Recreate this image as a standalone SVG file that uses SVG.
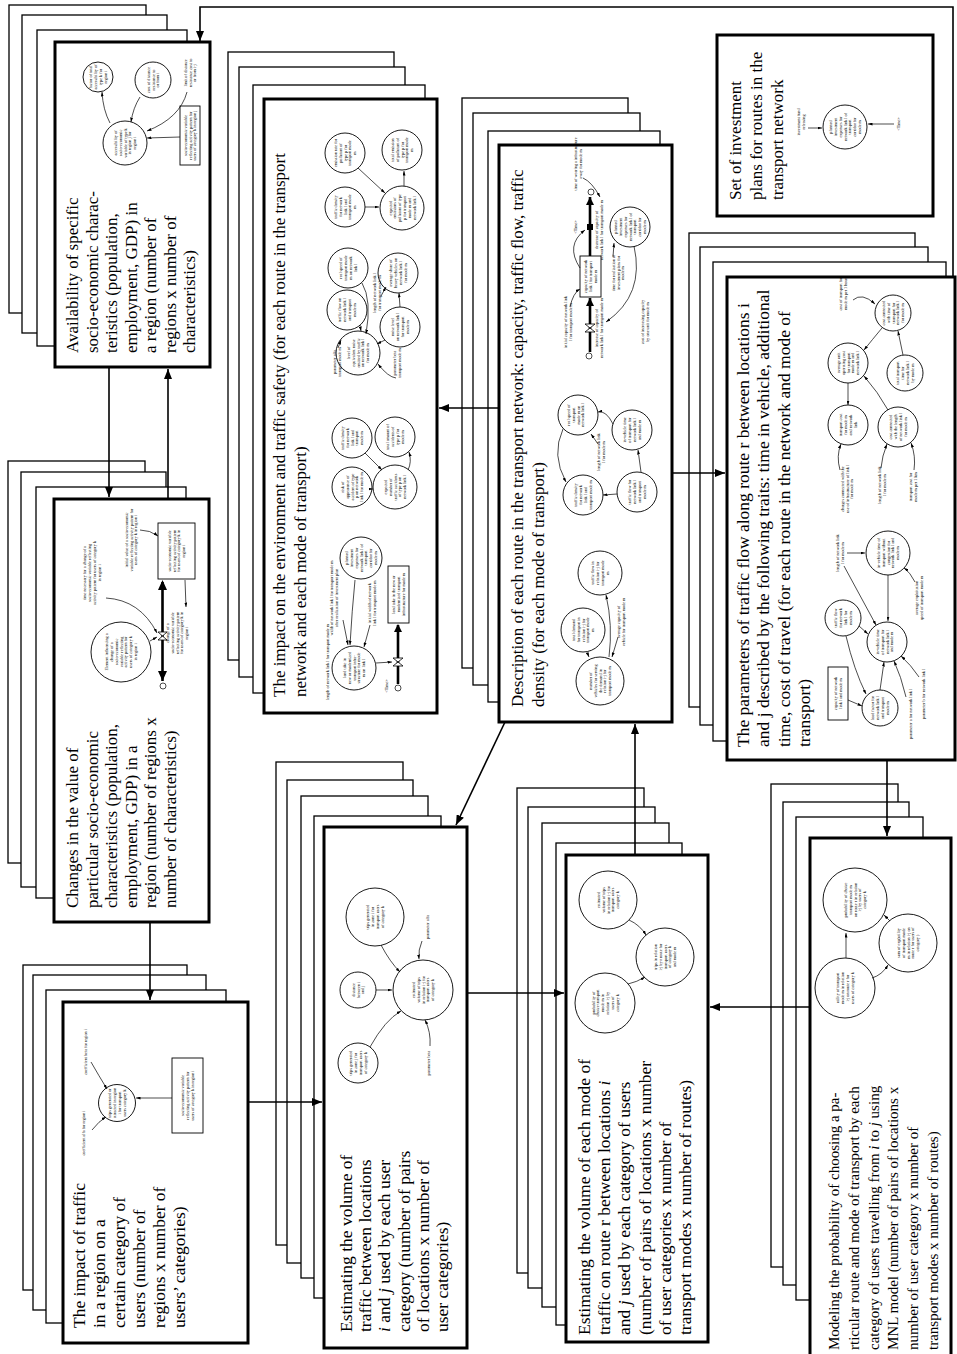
<svg xmlns="http://www.w3.org/2000/svg" width="957" height="1354" viewBox="0 0 957 1354">
<defs>
<style>
.pg{fill:#fff;stroke:#000;stroke-width:1.3}
.mb{fill:#fff;stroke:#000;stroke-width:3}
.t{font-family:"Liberation Serif","Times New Roman",serif;font-size:17px;fill:#000}
.t5{font-size:17.5px}
.s{font-family:"Liberation Serif","Times New Roman",serif;font-size:4.2px;fill:#000;text-anchor:middle}
.c{fill:#fff;stroke:#000;stroke-width:0.9}
.bx{fill:#fff;stroke:#000;stroke-width:0.9}
.con{fill:none;stroke:#000;stroke-width:1.6;marker-end:url(#A)}
.ia{fill:none;stroke:#000;stroke-width:0.7;marker-end:url(#a)}
.fl{fill:none;stroke:#000;stroke-width:2.6}
.cl{fill:#fff;stroke:#000;stroke-width:0.7}
</style>
<marker id="A" viewBox="0 0 10 8" refX="10" refY="4" markerWidth="10" markerHeight="8" markerUnits="userSpaceOnUse" orient="auto"><path d="M0,0L10,4L0,8z"/></marker>
<marker id="a" viewBox="0 0 6 4" refX="6" refY="2" markerWidth="4.5" markerHeight="3" markerUnits="userSpaceOnUse" orient="auto"><path d="M0,0L6,2L0,4z"/></marker>
</defs>
<rect width="957" height="1354" fill="#fff"/>

<g id="availability">
<rect class="pg" x="9" y="5" width="137" height="308"/>
<rect class="pg" x="22" y="15" width="145" height="318"/>
<rect class="pg" x="37" y="30" width="150" height="316"/>
<rect class="mb" x="55" y="42" width="155" height="325"/>
<text class="t" transform="translate(78,353) rotate(-90)"><tspan x="0" y="0">Availability of specific</tspan><tspan x="0" dy="19.5">socio-economic charac-</tspan><tspan x="0" dy="19.5">teristics (population,</tspan><tspan x="0" dy="19.5">employment, GDP) in</tspan><tspan x="0" dy="19.5">a region (number of</tspan><tspan x="0" dy="19.5">regions x number of</tspan><tspan x="0" dy="19.5">characteristics)</tspan></text>
<g transform="translate(98,77) rotate(-90)"><circle class="c" r="15"/><text class="s" y="-5.7"><tspan x="0">factor of total</tspan><tspan x="0" dy="4.8">accessibility of</tspan><tspan x="0" dy="4.8">type k for</tspan><tspan x="0" dy="4.8">region i</tspan></text></g>
<g transform="translate(153,80) rotate(-90)"><circle class="c" r="18"/><text class="s" y="-3.3"><tspan x="0">cost of distance</tspan><tspan x="0" dy="4.8">resistance to</tspan><tspan x="0" dy="4.8">or from i</tspan></text></g>
<g transform="translate(125,143) rotate(-90)"><circle class="c" r="22"/><text class="s" y="-8.1"><tspan x="0">accessibility of</tspan><tspan x="0" dy="4.8">socio-economic</tspan><tspan x="0" dy="4.8">variable of type k</tspan><tspan x="0" dy="4.8">in region j for</tspan><tspan x="0" dy="4.8">region i</tspan></text></g>
<g transform="translate(190,73) rotate(-90)"><text class="s" y="-3.3"><tspan x="0">limit of distance</tspan><tspan x="0" dy="4.8">resistance cost to</tspan><tspan x="0" dy="4.8">or from i-j</tspan></text></g>
<g transform="translate(190,135.5) rotate(-90)"><rect class="bx" x="-29.5" y="-10" width="59" height="20"/><text class="s" y="-3.3"><tspan x="0">socio-economic variable</tspan><tspan x="0" dy="4.8">reflecting activity pattern for</tspan><tspan x="0" dy="4.8">users of category k in region j</tspan></text></g>
<path class="ia" d="M110,123 Q103,110 102,92"/>
<path class="ia" d="M140,97 Q133,108 131,122"/>
<path class="ia" d="M187,92 Q180,118 147,131"/>
<path class="ia" d="M180,137 L147,138"/>
</g>

<g id="changes">
<rect class="pg" x="8" y="461" width="137" height="402"/>
<rect class="pg" x="21" y="472" width="145" height="415"/>
<rect class="pg" x="36" y="487" width="150" height="411"/>
<rect class="mb" x="54" y="499" width="155" height="423"/>
<text class="t" transform="translate(78,908) rotate(-90)"><tspan x="0" y="0">Changes in the value of</tspan><tspan x="0" dy="19.6">particular socio-economic</tspan><tspan x="0" dy="19.6">characteristics (population,</tspan><tspan x="0" dy="19.6">employment, GDP) in a</tspan><tspan x="0" dy="19.6">region (number of regions x</tspan><tspan x="0" dy="19.6">number of characteristics)</tspan></text>
<g transform="translate(176.5,551) rotate(-90)"><rect class="bx" x="-28" y="-18.5" width="56" height="37"/><text class="s" y="-5.7"><tspan x="0">socio-economic variable</tspan><tspan x="0" dy="4.8">reflecting activity pattern</tspan><tspan x="0" dy="4.8">for users of category k in</tspan><tspan x="0" dy="4.8">region i</tspan></text></g>
<path class="fl" d="M162.5,582 L162.5,681"/>
<path d="M158,590 L167,590 L162.5,580 Z M158,671 L167,671 L162.5,681 Z"/>
<path d="M158,632 L167,632 L158,640 L167,640 Z" fill="#fff" stroke="#000" stroke-width="0.8"/>
<circle class="cl" cx="163" cy="686" r="3"/>
<g transform="translate(121,652) rotate(-90)"><circle class="c" r="30"/><text class="s" y="-12.9"><tspan x="0">Element influencing a</tspan><tspan x="0" dy="4.8">change of a</tspan><tspan x="0" dy="4.8">socio-economic</tspan><tspan x="0" dy="4.8">variable reflecting</tspan><tspan x="0" dy="4.8">activity pattern for</tspan><tspan x="0" dy="4.8">users of category k</tspan><tspan x="0" dy="4.8">in region i</tspan></text></g>
<g transform="translate(177,633) rotate(-90)"><text class="s" y="-8.1"><tspan x="0">change of a</tspan><tspan x="0" dy="4.8">socio-economic variable</tspan><tspan x="0" dy="4.8">reflecting activity pattern</tspan><tspan x="0" dy="4.8">for users of category k in</tspan><tspan x="0" dy="4.8">region i</tspan></text></g>
<g transform="translate(92,573) rotate(-90)"><text class="s" y="-5.7"><tspan x="0">time necessary for a change of a</tspan><tspan x="0" dy="4.8">socio-economic variable reflecting</tspan><tspan x="0" dy="4.8">activity pattern for users of category k</tspan><tspan x="0" dy="4.8">in region i</tspan></text></g>
<g transform="translate(131,540) rotate(-90)"><text class="s" y="-3.3"><tspan x="0">initial value of a socio-economic</tspan><tspan x="0" dy="4.8">variable reflecting activity pattern for</tspan><tspan x="0" dy="4.8">users of category k in region i</tspan></text></g>
<path class="ia" d="M140,530 Q150,530 158,536"/>
<path class="ia" d="M106,598 Q140,600 157,633"/>
<path class="ia" d="M185,580 L186,607"/>
<path class="ia" d="M150,641 L157,637"/>
</g>

<g id="impact">
<rect class="pg" x="23" y="965" width="164" height="325"/>
<rect class="pg" x="33" y="975" width="173" height="335"/>
<rect class="pg" x="46" y="990" width="180" height="333"/>
<rect class="mb" x="63" y="1002" width="185" height="341"/>
<text class="t t5" transform="translate(85,1328) rotate(-90)"><tspan x="0" y="0">The impact of traffic</tspan><tspan x="0" dy="20">in a region on a</tspan><tspan x="0" dy="20">certain category of</tspan><tspan x="0" dy="20">users (number of</tspan><tspan x="0" dy="20">regions x number of</tspan><tspan x="0" dy="20">users’ categories)</tspan></text>
<g transform="translate(117,1103) rotate(-90)"><circle class="c" r="18.5"/><text class="s" y="-5.7"><tspan x="0">trips generated or</tspan><tspan x="0" dy="4.8">attracted in region</tspan><tspan x="0" dy="4.8">i for transport</tspan><tspan x="0" dy="4.8">users category k</tspan></text></g>
<g transform="translate(187.5,1095.5) rotate(-90)"><rect class="bx" x="-37.5" y="-15.5" width="75" height="31"/><text class="s" y="-3.3"><tspan x="0">socio-economic variable</tspan><tspan x="0" dy="4.8">reflecting activity pattern for</tspan><tspan x="0" dy="4.8">users of category k in region i</tspan></text></g>
<g transform="translate(83,1133) rotate(-90)"><text class="s" y="1.5"><tspan x="0">coefficient alfa for region i</tspan></text></g>
<g transform="translate(85,1052) rotate(-90)"><text class="s" y="1.5"><tspan x="0">coefficient beta for region i</tspan></text></g>
<path class="ia" d="M92,1130 Q99,1121 106,1117"/>
<path class="ia" d="M91,1062 Q99,1076 107,1089"/>
<path class="ia" d="M172,1098 L136,1098"/>
</g>

<g id="esttraffic">
<rect class="pg" x="276" y="762" width="127" height="483"/>
<rect class="pg" x="287" y="780" width="126" height="483"/>
<rect class="pg" x="301" y="796" width="127" height="482"/>
<rect class="pg" x="314" y="816" width="127" height="482"/>
<rect class="mb" x="324" y="827" width="143" height="521"/>
<text class="t t5" transform="translate(352,1332) rotate(-90)"><tspan x="0" y="0">Estimating the volume of</tspan><tspan x="0" dy="19.2">traffic between locations</tspan><tspan x="0" dy="19.2"><tspan font-style="italic">i</tspan> and <tspan font-style="italic">j</tspan> used by each user</tspan><tspan x="0" dy="19.2">category (number of pairs</tspan><tspan x="0" dy="19.2">of locations x number of</tspan><tspan x="0" dy="19.2">user categories)</tspan></text>
<g transform="translate(375,917) rotate(-90)"><circle class="c" r="29"/><text class="s" y="-5.7"><tspan x="0">trips generated</tspan><tspan x="0" dy="4.8">in zone i for</tspan><tspan x="0" dy="4.8">transport users</tspan><tspan x="0" dy="4.8">of category k</tspan></text></g>
<g transform="translate(358,990) rotate(-90)"><circle class="c" r="18"/><text class="s" y="-3.3"><tspan x="0">distance</tspan><tspan x="0" dy="4.8">between i</tspan><tspan x="0" dy="4.8">and j</tspan></text></g>
<g transform="translate(423,990) rotate(-90)"><circle class="c" r="30"/><text class="s" y="-8.1"><tspan x="0">estimated</tspan><tspan x="0" dy="4.8">volume of trips</tspan><tspan x="0" dy="4.8">in relation i-j for</tspan><tspan x="0" dy="4.8">transport users</tspan><tspan x="0" dy="4.8">of category k</tspan></text></g>
<g transform="translate(427,927) rotate(-90)"><text class="s" y="1.5"><tspan x="0">parameter alfa</tspan></text></g>
<g transform="translate(358,1063) rotate(-90)"><circle class="c" r="20"/><text class="s" y="-5.7"><tspan x="0">trips generated</tspan><tspan x="0" dy="4.8">in zone j for</tspan><tspan x="0" dy="4.8">transport users</tspan><tspan x="0" dy="4.8">of category k</tspan></text></g>
<g transform="translate(428,1063) rotate(-90)"><text class="s" y="1.5"><tspan x="0">parameter beta</tspan></text></g>
<path class="ia" d="M381,945 Q390,962 400,972"/>
<path class="ia" d="M376,990 L392,990"/>
<path class="ia" d="M422,941 Q418,950 419,959"/>
<path class="ia" d="M370,1047 Q385,1020 401,1011"/>
<path class="ia" d="M430,1046 Q431,1032 425,1020"/>
</g>

<g id="estmode">
<rect class="pg" x="517" y="788" width="127" height="485"/>
<rect class="pg" x="528" y="807" width="127" height="481"/>
<rect class="pg" x="542" y="823" width="127" height="484"/>
<rect class="pg" x="556" y="843" width="126" height="482"/>
<rect class="mb" x="566" y="855" width="142" height="487"/>
<text class="t t5" transform="translate(590,1335) rotate(-90)"><tspan x="0" y="0">Estimating the volume of each mode of</tspan><tspan x="0" dy="20.2">traffic on route r between locations <tspan font-style="italic">i</tspan></tspan><tspan x="0" dy="20.2">and <tspan font-style="italic">j</tspan> used by each category of users</tspan><tspan x="0" dy="20.2">(number of pairs of locations x number</tspan><tspan x="0" dy="20.2">of user categories x number of</tspan><tspan x="0" dy="20.2">transport modes x number of routes)</tspan></text>
<g transform="translate(608,900) rotate(-90)"><circle class="c" r="29"/><text class="s" y="-8.1"><tspan x="0">estimated</tspan><tspan x="0" dy="4.8">volume of trips</tspan><tspan x="0" dy="4.8">in relation i-j for</tspan><tspan x="0" dy="4.8">transport users</tspan><tspan x="0" dy="4.8">category k</tspan></text></g>
<g transform="translate(605,1003) rotate(-90)"><circle class="c" r="30"/><text class="s" y="-10.5"><tspan x="0">probability of</tspan><tspan x="0" dy="4.8">choice transport</tspan><tspan x="0" dy="4.8">mode m in</tspan><tspan x="0" dy="4.8">relation i-j by</tspan><tspan x="0" dy="4.8">users of</tspan><tspan x="0" dy="4.8">category k</tspan></text></g>
<g transform="translate(665,957) rotate(-90)"><circle class="c" r="29"/><text class="s" y="-8.1"><tspan x="0">trips in relation</tspan><tspan x="0" dy="4.8">i-j by r route for</tspan><tspan x="0" dy="4.8">transport users</tspan><tspan x="0" dy="4.8">of category k</tspan><tspan x="0" dy="4.8">and mode m</tspan></text></g>
<path class="ia" d="M629,920 Q640,925 646,935"/>
<path class="ia" d="M628,984 Q637,982 645,977"/>
</g>

<g id="modeling">
<rect class="pg" x="771" y="784" width="127" height="483"/>
<rect class="pg" x="783" y="802" width="126" height="483"/>
<rect class="pg" x="796" y="817" width="127" height="483"/>
<rect class="mb" x="810" y="838" width="141" height="530"/>
<text class="t" style="font-size:15px" transform="translate(839,1350) rotate(-90)"><tspan x="0" y="0">Modeling the probability of choosing a pa-</tspan><tspan x="0" dy="19.8">rticular route and mode of transport by each</tspan><tspan x="0" dy="19.8">category of users travelling from <tspan font-style="italic">i</tspan> to <tspan font-style="italic">j</tspan> using</tspan><tspan x="0" dy="19.8">MNL model (number of pairs of locations x</tspan><tspan x="0" dy="19.8">number of user category x number of</tspan><tspan x="0" dy="19.8">transport modes x number of routes)</tspan></text>
<g transform="translate(855,900) rotate(-90)"><circle class="c" r="32"/><text class="s" y="-8.1"><tspan x="0">probability of choice</tspan><tspan x="0" dy="4.8">transport mode m</tspan><tspan x="0" dy="4.8">on route r in relation</tspan><tspan x="0" dy="4.8">i-j by users of</tspan><tspan x="0" dy="4.8">category k</tspan></text></g>
<g transform="translate(908,943) rotate(-90)"><circle class="c" r="29"/><text class="s" y="-8.1"><tspan x="0">sum of exp(utility</tspan><tspan x="0" dy="4.8">of transport mode</tspan><tspan x="0" dy="4.8">m in relation i-j on</tspan><tspan x="0" dy="4.8">route r for users of</tspan><tspan x="0" dy="4.8">category )</tspan></text></g>
<g transform="translate(845,988) rotate(-90)"><circle class="c" r="30"/><text class="s" y="-5.7"><tspan x="0">utility of transport</tspan><tspan x="0" dy="4.8">mode m in relation</tspan><tspan x="0" dy="4.8">i-j on route r for</tspan><tspan x="0" dy="4.8">users of category k</tspan></text></g>
<path class="ia" d="M846,958 L846,933"/>
<path class="ia" d="M872,978 Q882,975 888,965"/>
<path class="ia" d="M890,921 L884,915"/>
</g>

<g id="investment">
<rect class="mb" x="717" y="35" width="216" height="181"/>
<text class="t" transform="translate(741,200) rotate(-90)"><tspan x="0" y="0">Set of investment</tspan><tspan x="0" dy="21">plans for routes in the</tspan><tspan x="0" dy="21">transport network</tspan></text>
<g transform="translate(845,127) rotate(-90)"><circle class="c" r="22"/><text class="s" y="-12.9"><tspan x="0">planned</tspan><tspan x="0" dy="4.8">investment</tspan><tspan x="0" dy="4.8">expenses for</tspan><tspan x="0" dy="4.8">network link l of</tspan><tspan x="0" dy="4.8">transport</tspan><tspan x="0" dy="4.8">corridor for</tspan><tspan x="0" dy="4.8">mode m</tspan></text></g>
<g transform="translate(801,122) rotate(-90)"><text class="s" y="-0.9"><tspan x="0">investment fund</tspan><tspan x="0" dy="4.8">releasing</tspan></text></g>
<g transform="translate(898,124) rotate(-90)"><text class="s" y="1.5"><tspan x="0">&lt;Time&gt;</tspan></text></g>
<path class="ia" d="M808,128 L822,128"/>
<path class="ia" d="M894,124 L868,124"/>
</g>

<g id="environment">
<rect class="pg" x="228" y="52" width="166" height="608"/>
<rect class="pg" x="239" y="67" width="166" height="610"/>
<rect class="pg" x="253" y="85" width="172" height="608"/>
<rect class="mb" x="264" y="99" width="173" height="614"/>
<text class="t" transform="translate(285,697) rotate(-90)"><tspan x="0" y="0">The impact on the environment and traffic safety (for each route in the transport</tspan><tspan x="0" dy="21">network and each mode of transport)</tspan></text>
<g transform="translate(345,153) rotate(-90)"><circle class="c" r="20"/><text class="s" y="-8.1"><tspan x="0">emission rate for</tspan><tspan x="0" dy="4.8">pollutant of</tspan><tspan x="0" dy="4.8">type p for</tspan><tspan x="0" dy="4.8">transport mode</tspan><tspan x="0" dy="4.8">m</tspan></text></g>
<g transform="translate(402,150) rotate(-90)"><circle class="c" r="20"/><text class="s" y="-8.1"><tspan x="0">total emission</tspan><tspan x="0" dy="4.8">of pollutant of</tspan><tspan x="0" dy="4.8">type p for</tspan><tspan x="0" dy="4.8">transport mode</tspan><tspan x="0" dy="4.8">m</tspan></text></g>
<g transform="translate(345,207) rotate(-90)"><circle class="c" r="20"/><text class="s" y="-8.1"><tspan x="0">traffic density</tspan><tspan x="0" dy="4.8">for network</tspan><tspan x="0" dy="4.8">link l and</tspan><tspan x="0" dy="4.8">transport mode</tspan><tspan x="0" dy="4.8">m</tspan></text></g>
<g transform="translate(402,208) rotate(-90)"><circle class="c" r="22"/><text class="s" y="-10.5"><tspan x="0">expected</tspan><tspan x="0" dy="4.8">emissions of</tspan><tspan x="0" dy="4.8">pollutant of type</tspan><tspan x="0" dy="4.8">p for transport</tspan><tspan x="0" dy="4.8">mode m and</tspan><tspan x="0" dy="4.8">network link l</tspan></text></g>
<path class="ia" d="M358,168 L385,193"/>
<path class="ia" d="M365,207 L379,207"/>
<path class="ia" d="M404,186 L404,171"/>
<g transform="translate(348,268) rotate(-90)"><circle class="c" r="20"/><text class="s" y="-5.7"><tspan x="0">real speed of</tspan><tspan x="0" dy="4.8">transport mode</tspan><tspan x="0" dy="4.8">m on network</tspan><tspan x="0" dy="4.8">link l</tspan></text></g>
<g transform="translate(347,310) rotate(-90)"><circle class="c" r="20"/><text class="s" y="-5.7"><tspan x="0">traffic flow on</tspan><tspan x="0" dy="4.8">network link l</tspan><tspan x="0" dy="4.8">and transport</tspan><tspan x="0" dy="4.8">mode m</tspan></text></g>
<g transform="translate(398,273) rotate(-90)"><circle class="c" r="20"/><text class="s" y="-5.7"><tspan x="0">average share of</tspan><tspan x="0" dy="4.8">heavy vehicles on</tspan><tspan x="0" dy="4.8">network link l</tspan><tspan x="0" dy="4.8">for mode m</tspan></text></g>
<g transform="translate(400,327) rotate(-90)"><circle class="c" r="20"/><text class="s" y="-5.7"><tspan x="0">noise level</tspan><tspan x="0" dy="4.8">on network link l</tspan><tspan x="0" dy="4.8">for transport</tspan><tspan x="0" dy="4.8">mode m</tspan></text></g>
<g transform="translate(358,353) rotate(-90)"><circle class="c" r="22"/><text class="s" y="-8.1"><tspan x="0">level of</tspan><tspan x="0" dy="4.8">equivalent noise</tspan><tspan x="0" dy="4.8">emitted by traffic</tspan><tspan x="0" dy="4.8">on network link l</tspan><tspan x="0" dy="4.8">for mode m</tspan></text></g>
<g transform="translate(377,293) rotate(-90)"><text class="s" y="-0.9"><tspan x="0">length of network link l</tspan><tspan x="0" dy="4.8">for transport mode m</tspan></text></g>
<g transform="translate(337,362) rotate(-90)"><text class="s" y="-0.9"><tspan x="0">parameter alfa</tspan><tspan x="0" dy="4.8">transport mode m</tspan></text></g>
<g transform="translate(397,363) rotate(-90)"><text class="s" y="-0.9"><tspan x="0">parameter beta</tspan><tspan x="0" dy="4.8">transport mode m</tspan></text></g>
<path class="ia" d="M362,283 Q372,300 366,334"/>
<path class="ia" d="M360,325 L361,331"/>
<path class="ia" d="M381,296 L386,287"/>
<path class="ia" d="M400,307 L399,293"/>
<path class="ia" d="M385,340 L377,344"/>
<path class="ia" d="M338,348 L341,340"/>
<path class="ia" d="M396,378 Q388,377 378,364"/>
<g transform="translate(352,438) rotate(-90)"><circle class="c" r="20"/><text class="s" y="-8.1"><tspan x="0">traffic density</tspan><tspan x="0" dy="4.8">for network</tspan><tspan x="0" dy="4.8">link l and</tspan><tspan x="0" dy="4.8">transport</tspan><tspan x="0" dy="4.8">mode m</tspan></text></g>
<g transform="translate(395,437) rotate(-90)"><circle class="c" r="20"/><text class="s" y="-5.7"><tspan x="0">total amount of</tspan><tspan x="0" dy="4.8">accidents of</tspan><tspan x="0" dy="4.8">type p for</tspan><tspan x="0" dy="4.8">mode m</tspan></text></g>
<g transform="translate(352,487) rotate(-90)"><circle class="c" r="20"/><text class="s" y="-8.1"><tspan x="0">risk of</tspan><tspan x="0" dy="4.8">appearance of</tspan><tspan x="0" dy="4.8">accident of type</tspan><tspan x="0" dy="4.8">p on network</tspan><tspan x="0" dy="4.8">link l for mode m</tspan></text></g>
<g transform="translate(395,487) rotate(-90)"><circle class="c" r="22"/><text class="s" y="-8.1"><tspan x="0">expected</tspan><tspan x="0" dy="4.8">number of</tspan><tspan x="0" dy="4.8">traffic accidents</tspan><tspan x="0" dy="4.8">of type p on</tspan><tspan x="0" dy="4.8">network link l</tspan></text></g>
<path class="ia" d="M365,453 L382,470"/>
<path class="ia" d="M372,489 L373,489"/>
<path class="ia" d="M408,470 Q412,462 409,452"/>
<g transform="translate(361,558) rotate(-90)"><circle class="c" r="21"/><text class="s" y="-12.9"><tspan x="0">planned</tspan><tspan x="0" dy="4.8">investment</tspan><tspan x="0" dy="4.8">expenses for</tspan><tspan x="0" dy="4.8">network link l of</tspan><tspan x="0" dy="4.8">transport</tspan><tspan x="0" dy="4.8">corridor for</tspan><tspan x="0" dy="4.8">mode m</tspan></text></g>
<g transform="translate(398.5,594.5) rotate(-90)"><rect class="bx" x="-28.5" y="-10.5" width="57" height="21"/><text class="s" y="-3.3"><tspan x="0">land take in the new or</tspan><tspan x="0" dy="4.8">modernized transport</tspan><tspan x="0" dy="4.8">infrastructure for mode m</tspan></text></g>
<g transform="translate(336,598) rotate(-90)"><text class="s" y="-3.3"><tspan x="0">width of network link l for transport mode m</tspan><tspan x="0" dy="4.8">after realization of investment plan</tspan></text></g>
<g transform="translate(372,603) rotate(-90)"><text class="s" y="-0.9"><tspan x="0">initial width of network</tspan><tspan x="0" dy="4.8">link l for transport mode m</tspan></text></g>
<g transform="translate(327,662) rotate(-90)"><text class="s" y="1.5"><tspan x="0">length of network link l for transport mode m</tspan></text></g>
<g transform="translate(354,668) rotate(-90)"><circle class="c" r="22"/><text class="s" y="-8.1"><tspan x="0">land take in</tspan><tspan x="0" dy="4.8">new or modernized</tspan><tspan x="0" dy="4.8">transport infra-</tspan><tspan x="0" dy="4.8">structure for mode</tspan><tspan x="0" dy="4.8">m on link l</tspan></text></g>
<path class="fl" d="M398,625 L398,684"/>
<path d="M394,632 L402,632 L398,624 Z"/>
<path d="M393,658 L403,658 L393,666 L403,666 Z" fill="#fff" stroke="#000" stroke-width="0.8"/>
<circle class="cl" cx="398" cy="688" r="3"/>
<g transform="translate(386,686) rotate(-90)"><text class="s" y="1.5"><tspan x="0">&lt;Time&gt;</tspan></text></g>
<path class="ia" d="M355,580 Q352,610 350,645"/>
<path class="ia" d="M343,620 L348,645"/>
<path class="ia" d="M370,625 L364,647"/>
<path class="ia" d="M376,663 L392,662"/>
</g>

<g id="description">
<rect class="pg" x="462" y="98" width="166" height="570"/>
<rect class="pg" x="473" y="113" width="167" height="572"/>
<rect class="pg" x="488" y="131" width="172" height="571"/>
<rect class="mb" x="499" y="145" width="173" height="577"/>
<text class="t" transform="translate(523,707) rotate(-90)"><tspan x="0" y="0">Description of each route in the transport network: capacity, traffic flow, traffic</tspan><tspan x="0" dy="21">density (for each mode of transport)</tspan></text>
<g transform="translate(578,164) rotate(-90)"><text class="s" y="-0.9"><tspan x="0">time of wearing a infrastructure</tspan><tspan x="0" dy="4.8">away for mode m</tspan></text></g>
<circle class="cl" cx="591" cy="192" r="3"/>
<path class="fl" d="M590,197 L590,256"/>
<path d="M586,205 L594,205 L590,197 Z"/>
<rect x="587" y="224" width="6" height="6"/>
<g transform="translate(575,227) rotate(-90)"><text class="s" y="1.5"><tspan x="0">&lt;Time&gt;</tspan></text></g>
<g transform="translate(599,230) rotate(-90)"><text class="s" y="-0.9"><tspan x="0">decrease of capacity of</tspan><tspan x="0" dy="4.8">network link l for transport mode m</tspan></text></g>
<g transform="translate(630,227) rotate(-90)"><circle class="c" r="20"/><text class="s" y="-12.9"><tspan x="0">planned</tspan><tspan x="0" dy="4.8">investment</tspan><tspan x="0" dy="4.8">expenses for</tspan><tspan x="0" dy="4.8">network link l of</tspan><tspan x="0" dy="4.8">transport</tspan><tspan x="0" dy="4.8">corridor for</tspan><tspan x="0" dy="4.8">mode m</tspan></text></g>
<g transform="translate(590.5,276.5) rotate(-90)"><rect class="bx" x="-20.5" y="-10.5" width="41" height="21"/><text class="s" y="-3.3"><tspan x="0">capacity of network</tspan><tspan x="0" dy="4.8">link l for transport</tspan><tspan x="0" dy="4.8">mode m</tspan></text></g>
<g transform="translate(618,273) rotate(-90)"><text class="s" y="-3.3"><tspan x="0">time for realization of</tspan><tspan x="0" dy="4.8">investment plans for</tspan><tspan x="0" dy="4.8">mode m</tspan></text></g>
<path class="fl" d="M590,298 L590,352"/>
<path d="M586,306 L594,306 L590,298 Z"/>
<path d="M585,324 L595,324 L585,332 L595,332 Z" fill="#fff" stroke="#000" stroke-width="0.8"/>
<circle class="cl" cx="589" cy="356" r="3"/>
<g transform="translate(568,322) rotate(-90)"><text class="s" y="-0.9"><tspan x="0">initial capacity of network link</tspan><tspan x="0" dy="4.8">l for transport mode m</tspan></text></g>
<g transform="translate(599,328) rotate(-90)"><text class="s" y="-0.9"><tspan x="0">increase of capacity of</tspan><tspan x="0" dy="4.8">network link l for transport mode m</tspan></text></g>
<g transform="translate(645,322) rotate(-90)"><text class="s" y="-0.9"><tspan x="0">cost of increasing capacity</tspan><tspan x="0" dy="4.8">by one unit for mode m</tspan></text></g>
<path class="ia" d="M583,178 Q592,182 600,197"/>
<path class="ia" d="M580,268 Q565,245 585,230"/>
<path class="ia" d="M613,257 L614,243"/>
<path class="ia" d="M634,246 Q645,295 606,322"/>
<path class="ia" d="M570,307 Q573,293 580,289"/>
<g transform="translate(578,415) rotate(-90)"><circle class="c" r="20"/><text class="s" y="-8.1"><tspan x="0">real speed of</tspan><tspan x="0" dy="4.8">transport</tspan><tspan x="0" dy="4.8">mode m on</tspan><tspan x="0" dy="4.8">network link l</tspan><tspan x="0" dy="4.8"> </tspan></text></g>
<g transform="translate(632,430) rotate(-90)"><circle class="c" r="20"/><text class="s" y="-5.7"><tspan x="0">in-vehicle time</tspan><tspan x="0" dy="4.8">of transport for</tspan><tspan x="0" dy="4.8">network link l</tspan><tspan x="0" dy="4.8">and mode m</tspan></text></g>
<g transform="translate(583,495) rotate(-90)"><circle class="c" r="20"/><text class="s" y="-5.7"><tspan x="0">traffic density</tspan><tspan x="0" dy="4.8">for network</tspan><tspan x="0" dy="4.8">link l and</tspan><tspan x="0" dy="4.8">transport mode m</tspan></text></g>
<g transform="translate(637,492) rotate(-90)"><circle class="c" r="20"/><text class="s" y="-5.7"><tspan x="0">traffic flow for</tspan><tspan x="0" dy="4.8">network link l</tspan><tspan x="0" dy="4.8">and transport</tspan><tspan x="0" dy="4.8">mode m</tspan></text></g>
<g transform="translate(601,452) rotate(-90)"><text class="s" y="-0.9"><tspan x="0">length of network link</tspan><tspan x="0" dy="4.8">l for mode m</tspan></text></g>
<path class="ia" d="M613,424 Q606,410 598,412"/>
<path class="ia" d="M598,444 L591,434"/>
<path class="ia" d="M563,429 Q551,455 566,482"/>
<path class="ia" d="M617,494 L603,495"/>
<path class="ia" d="M641,472 L638,450"/>
<g transform="translate(600,573) rotate(-90)"><circle class="c" r="22"/><text class="s" y="-5.7"><tspan x="0">traffic flow in</tspan><tspan x="0" dy="4.8">relation i-j for</tspan><tspan x="0" dy="4.8">transport mode</tspan><tspan x="0" dy="4.8">m</tspan></text></g>
<g transform="translate(583,630) rotate(-90)"><circle class="c" r="22"/><text class="s" y="-8.1"><tspan x="0">total demand</tspan><tspan x="0" dy="4.8">for transport in</tspan><tspan x="0" dy="4.8">relation i-j for</tspan><tspan x="0" dy="4.8">transport mode</tspan><tspan x="0" dy="4.8">m</tspan></text></g>
<g transform="translate(621,622) rotate(-90)"><text class="s" y="-0.9"><tspan x="0">average capacity of</tspan><tspan x="0" dy="4.8">vehicle for transport mode m</tspan></text></g>
<g transform="translate(600,681) rotate(-90)"><circle class="c" r="24"/><text class="s" y="-8.1"><tspan x="0">number of</tspan><tspan x="0" dy="4.8">vehicles for serving</tspan><tspan x="0" dy="4.8">the demand in</tspan><tspan x="0" dy="4.8">relation i-j for</tspan><tspan x="0" dy="4.8">transport mode m</tspan></text></g>
<path class="ia" d="M587,652 L589,657"/>
<path class="ia" d="M618,637 L612,657"/>
<path class="ia" d="M609,657 Q613,625 606,595"/>
</g>

<g id="parameters">
<rect class="pg" x="689" y="233" width="226" height="474"/>
<rect class="pg" x="700" y="247" width="228" height="478"/>
<rect class="pg" x="713" y="262" width="233" height="479"/>
<rect class="mb" x="727" y="277" width="228" height="483"/>
<text class="t t5" transform="translate(749,747) rotate(-90)"><tspan x="0" y="0">The parameters of traffic flow along route r between locations i</tspan><tspan x="0" dy="20.3">and j described by the following traits: time in vehicle, additional</tspan><tspan x="0" dy="20.3">time, cost of travel (for each route in the network and mode of</tspan><tspan x="0" dy="20.3">transport)</tspan></text>
<g transform="translate(843,294) rotate(-90)"><text class="s" y="-0.9"><tspan x="0">cost of transport for</tspan><tspan x="0" dy="4.8">mode m per 1 hour</tspan></text></g>
<g transform="translate(893,313) rotate(-90)"><circle class="c" r="18"/><text class="s" y="-8.1"><tspan x="0">cost connected</tspan><tspan x="0" dy="4.8">with time of</tspan><tspan x="0" dy="4.8">transport for</tspan><tspan x="0" dy="4.8">network link l</tspan><tspan x="0" dy="4.8">for mode m</tspan></text></g>
<g transform="translate(848,363) rotate(-90)"><circle class="c" r="20"/><text class="s" y="-8.1"><tspan x="0">average unit</tspan><tspan x="0" dy="4.8">operating cost</tspan><tspan x="0" dy="4.8">for transport</tspan><tspan x="0" dy="4.8">mode m and</tspan><tspan x="0" dy="4.8">network link l</tspan></text></g>
<g transform="translate(905,373) rotate(-90)"><circle class="c" r="18"/><text class="s" y="-5.7"><tspan x="0">total transport</tspan><tspan x="0" dy="4.8">time for</tspan><tspan x="0" dy="4.8">network link l</tspan><tspan x="0" dy="4.8">by mode m</tspan></text></g>
<g transform="translate(848,425) rotate(-90)"><circle class="c" r="20"/><text class="s" y="-5.7"><tspan x="0">transport cost</tspan><tspan x="0" dy="4.8">for mode m</tspan><tspan x="0" dy="4.8">and network</tspan><tspan x="0" dy="4.8">link</tspan></text></g>
<g transform="translate(898,427) rotate(-90)"><circle class="c" r="20"/><text class="s" y="-5.7"><tspan x="0">cost connected</tspan><tspan x="0" dy="4.8">with the length</tspan><tspan x="0" dy="4.8">of network link l</tspan><tspan x="0" dy="4.8">for mode m</tspan></text></g>
<g transform="translate(847,489) rotate(-90)"><text class="s" y="-3.3"><tspan x="0">charges connected with the</tspan><tspan x="0" dy="4.8">use of infrastructure of link l</tspan><tspan x="0" dy="4.8">for mode m</tspan></text></g>
<g transform="translate(882,485) rotate(-90)"><text class="s" y="-0.9"><tspan x="0">length of network link</tspan><tspan x="0" dy="4.8">l for mode m</tspan></text></g>
<g transform="translate(913,487) rotate(-90)"><text class="s" y="-0.9"><tspan x="0">transport cost for</tspan><tspan x="0" dy="4.8">mode m per 1 km</tspan></text></g>
<path class="ia" d="M853,300 Q862,292 875,304"/>
<path class="ia" d="M882,328 Q872,340 864,350"/>
<path class="ia" d="M903,355 L898,331"/>
<path class="ia" d="M848,383 L848,405"/>
<path class="ia" d="M888,410 Q878,392 864,376"/>
<path class="ia" d="M840,470 Q836,456 841,444"/>
<path class="ia" d="M881,468 Q882,456 887,444"/>
<path class="ia" d="M914,470 Q916,456 911,443"/>
<g transform="translate(840,553) rotate(-90)"><text class="s" y="-0.9"><tspan x="0">length of network link</tspan><tspan x="0" dy="4.8">l for mode m</tspan></text></g>
<g transform="translate(888,553) rotate(-90)"><circle class="c" r="22"/><text class="s" y="-8.1"><tspan x="0">in-vehicle time of</tspan><tspan x="0" dy="4.8">transport without</tspan><tspan x="0" dy="4.8">congestion for</tspan><tspan x="0" dy="4.8">network link l and</tspan><tspan x="0" dy="4.8">mode m</tspan></text></g>
<g transform="translate(919,598) rotate(-90)"><text class="s" y="-0.9"><tspan x="0">average exploitation</tspan><tspan x="0" dy="4.8">speed of transport mode m</tspan></text></g>
<g transform="translate(843,618) rotate(-90)"><circle class="c" r="18"/><text class="s" y="-5.7"><tspan x="0">traffic flow</tspan><tspan x="0" dy="4.8">for network</tspan><tspan x="0" dy="4.8">link l for</tspan><tspan x="0" dy="4.8">mode m</tspan></text></g>
<g transform="translate(887,642) rotate(-90)"><circle class="c" r="20"/><text class="s" y="-8.1"><tspan x="0">in-vehicle time</tspan><tspan x="0" dy="4.8">of transport for</tspan><tspan x="0" dy="4.8">network link l</tspan><tspan x="0" dy="4.8">and mode m</tspan><tspan x="0" dy="4.8"> </tspan></text></g>
<g transform="translate(838,693.5) rotate(-90)"><rect class="bx" x="-26.5" y="-10" width="53" height="20"/><text class="s" y="-0.9"><tspan x="0">capacity of network</tspan><tspan x="0" dy="4.8">link l and mode m</tspan></text></g>
<g transform="translate(880,708) rotate(-90)"><circle class="c" r="18"/><text class="s" y="-5.7"><tspan x="0">load factor for</tspan><tspan x="0" dy="4.8">network link l</tspan><tspan x="0" dy="4.8">and transport</tspan><tspan x="0" dy="4.8">mode m</tspan></text></g>
<g transform="translate(910,714) rotate(-90)"><text class="s" y="1.5"><tspan x="0">parameter a for network link l</tspan></text></g>
<g transform="translate(923,694) rotate(-90)"><text class="s" y="1.5"><tspan x="0">parameter b for network link l</tspan></text></g>
<path class="ia" d="M847,553 L865,553"/>
<path class="ia" d="M915,582 Q910,572 904,568"/>
<path class="ia" d="M888,575 L888,621"/>
<path class="ia" d="M859,626 L868,634"/>
<path class="ia" d="M844,566 L876,625"/>
<path class="ia" d="M848,700 L862,706"/>
<path class="ia" d="M846,636 Q854,670 866,694"/>
<path class="ia" d="M880,690 L884,662"/>
<path class="ia" d="M906,697 Q901,676 894,661"/>
<path class="ia" d="M919,677 Q911,665 901,656"/>
</g>

<g id="connectors">
<path class="con" d="M953,277 L953,7 L200,7 L200,41"/>
<path class="con" d="M109,367 L109,497"/>
<path class="con" d="M168,499 L168,369"/>
<path class="con" d="M150,922 L150,1000"/>
<path class="con" d="M248,1102 L322,1102"/>
<path class="con" d="M467,993 L564,993"/>
<path class="con" d="M810,1007 L710,1007"/>
<path class="con" d="M635,855 L635,724"/>
<path class="con" d="M499,408 L439,408"/>
<path class="con" d="M672,473 L725,473"/>
<path class="con" d="M887,760 L887,836"/>
<path class="con" d="M505,722 L456,825"/>
</g>
</svg>
